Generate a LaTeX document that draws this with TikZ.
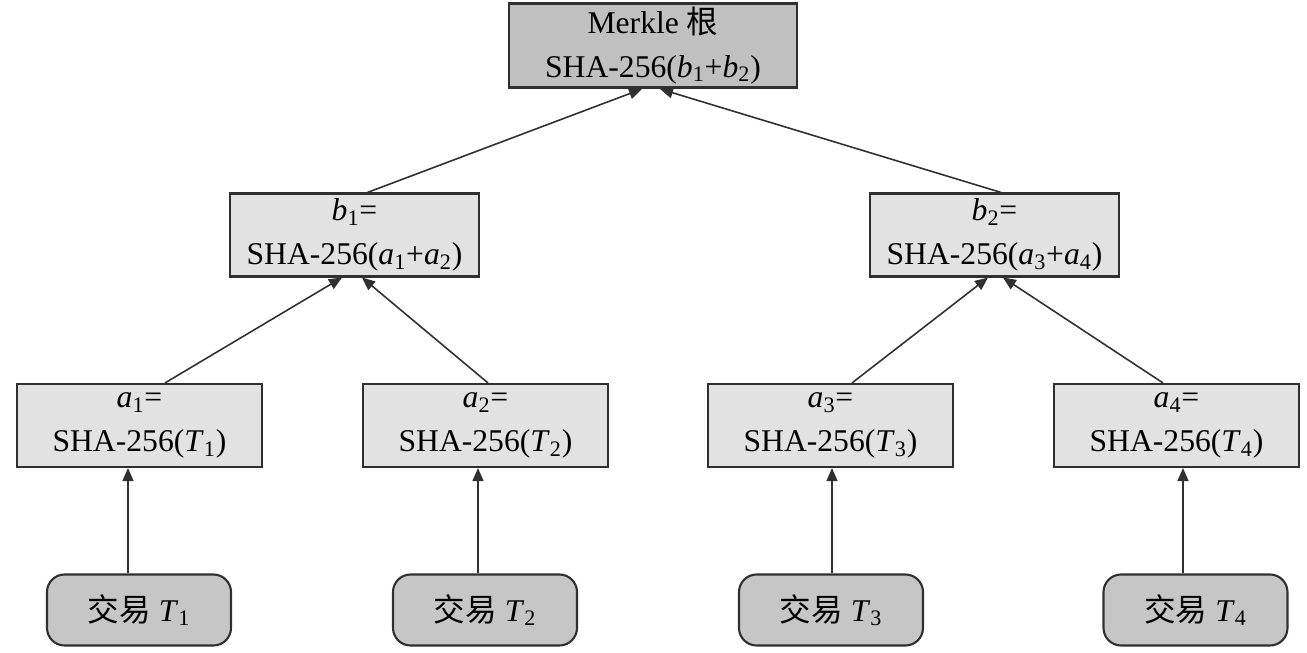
\documentclass[tikz,border=0pt]{standalone}
\usepackage{fontspec}
\setmainfont{Liberation Serif}
\newfontfamily\cjk{Noto Sans CJK SC}
\usetikzlibrary{arrows.meta, positioning}
\definecolor{clrRoot}{HTML}{C0C0C0}
\definecolor{clrHash}{HTML}{E2E2E2}
\definecolor{clrTx}{HTML}{C6C6C6}
\definecolor{clrLine}{HTML}{303030}
\newcommand{\hv}[2]{\textit{#1}\textsubscript{#2}}
\tikzset{
  root/.style = {rectangle, minimum width=5.76cm, minimum height=1.66cm, inner sep=2pt,
                 align=center, font=\fontsize{18}{25}\selectfont, draw=clrLine, line width=1.5pt, fill=clrRoot},
  hash/.style = {rectangle, minimum width=4.9cm, minimum height=1.66cm, inner sep=2pt,
                 align=center, font=\fontsize{18}{25}\selectfont, draw=clrLine, line width=1.2pt, fill=clrHash},
  tx/.style = {rectangle, rounded corners=10pt, minimum width=3.68cm, minimum height=1.42cm,
               align=center, font=\fontsize{18}{25}\selectfont, draw=clrLine, line width=1.2pt, fill=clrTx},
  arrow/.style = {-{Triangle[length=2.6mm, width=2.2mm]}, line width=0.9pt, color=clrLine},
}
\begin{document}
\begin{tikzpicture}
  \useasboundingbox (0,0) rectangle (26.14,-13.06);
  % y-positions for each row
  \def\yRoot{-0.91}
  \def\yB{-4.70}
  \def\yA{-8.51}
  \def\yT{-12.20}

  % --- Root ---
  \node[root] at (13.06, \yRoot) (R) {Merkle {\cjk 根}\\SHA-256(\hv{b}{1}+\hv{b}{2})};

  % --- Second level ---
  \node[hash, minimum width=4.98cm] at (7.09, \yB)  (B1) {\hv{b}{1}=\\SHA-256(\hv{a}{1}+\hv{a}{2})};
  \node[hash, minimum width=4.98cm] at (19.89, \yB) (B2) {\hv{b}{2}=\\SHA-256(\hv{a}{3}+\hv{a}{4})};

  % --- Leaf hashes ---
  \node[hash] at (2.79, \yA)  (A1) {\hv{a}{1}=\\SHA-256(\hv{T}{1})};
  \node[hash] at (9.71, \yA)  (A2) {\hv{a}{2}=\\SHA-256(\hv{T}{2})};
  \node[hash] at (16.61, \yA) (A3) {\hv{a}{3}=\\SHA-256(\hv{T}{3})};
  \node[hash] at (23.53, \yA) (A4) {\hv{a}{4}=\\SHA-256(\hv{T}{4})};

  % --- Transactions ---
  \node[tx] at (2.78, \yT)  (T1) {{\cjk 交易} \hv{T}{1}};
  \node[tx] at (9.70, \yT)  (T2) {{\cjk 交易} \hv{T}{2}};
  \node[tx] at (16.62, \yT) (T3) {{\cjk 交易} \hv{T}{3}};
  \node[tx] at (23.91, \yT) (T4) {{\cjk 交易} \hv{T}{4}};

  % Transaction links
  \draw[arrow] ([xshift=-0.22cm] T1.north) -- ([xshift=-0.22cm] T1.north |- A1.south);
  \draw[arrow] ([xshift=-0.14cm] T2.north) -- ([xshift=-0.14cm] T2.north |- A2.south);
  \draw[arrow] ([xshift=0.02cm] T3.north)  -- ([xshift=0.02cm] T3.north |- A3.south);
  \draw[arrow] ([xshift=-0.25cm] T4.north) -- ([xshift=-0.25cm] T4.north |- A4.south);

  % Hash links
  \draw[arrow] ([xshift=0.51cm] A1.north)  -- ([xshift=-0.25cm] B1.south);
  \draw[arrow] ([xshift=0.05cm] A2.north)  -- ([xshift=0.15cm] B1.south);
  \draw[arrow] ([xshift=0.43cm] A3.north)  -- ([xshift=-0.13cm] B2.south);
  \draw[arrow] ([xshift=-0.27cm] A4.north) -- ([xshift=0.17cm] B2.south);
  \draw[arrow] ([xshift=0.26cm] B1.north)  -- ([xshift=-0.22cm] R.south);
  \draw[arrow] ([xshift=0.13cm] B2.north)  -- ([xshift=0.14cm] R.south);
\end{tikzpicture}
\end{document}
